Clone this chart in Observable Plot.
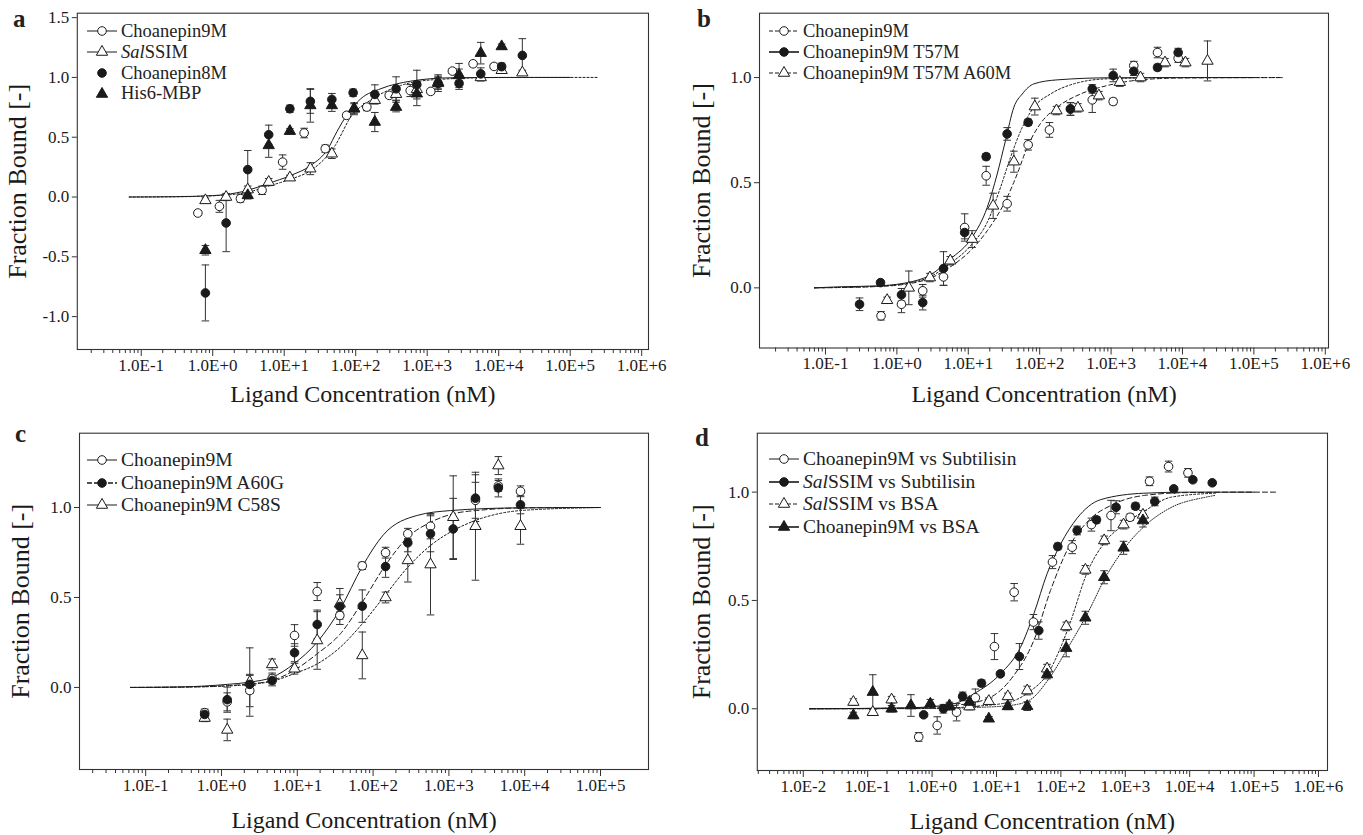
<!DOCTYPE html>
<html><head><meta charset="utf-8">
<script src="https://cdn.jsdelivr.net/npm/d3@7"></script>
<script src="https://cdn.jsdelivr.net/npm/@observablehq/plot@0.6"></script>
<style>
body{margin:0;background:#fff;}
#root{position:relative;width:1363px;height:835px;overflow:hidden;font-family:"Liberation Serif","Times New Roman",serif;color:#222;background:#fff;}
.panel{position:absolute;}
.letter{position:absolute;font-weight:bold;font-size:25px;line-height:1;}
.legend{position:absolute;}
.legend .row{display:flex;align-items:center;white-space:nowrap;}
.legend svg{flex:none;margin-right:2px;}
</style></head><body><div id="root"></div>
<script>
const FONT = '"Liberation Serif","Times New Roman",serif';

// ---------- Panel a ----------
const aDecades = [1e-1, 1e0, 1e1, 1e2, 1e3, 1e4, 1e5, 1e6];
const aYTicks = [-1.0, -0.5, 0.0, 0.5, 1.0, 1.5];
const aC9M_x = [0.62, 1.24, 2.44, 4.9, 9.5, 19, 37.5, 74.6, 143, 294, 578, 1120, 2250, 4380, 8600];
const aC9M_y = [-0.134, -0.078, -0.013, 0.056, 0.292, 0.535, 0.404, 0.683, 0.752, 0.85, 0.89, 0.883, 1.053, 1.114, 1.092];
const aC9M_e = [0.02, 0.05, 0.03, 0.035, 0.06, 0.04, 0.03, 0.02, 0.03, 0.02, 0.05, 0.02, 0.02, 0.02, 0.02];
const aSal_x = [0.79, 1.54, 3.09, 6.07, 12, 23.2, 46.4, 95, 185, 367, 716, 1420, 2790, 5610, 11000, 21400];
const aSal_y = [-0.028, 0.0, 0.062, 0.125, 0.162, 0.237, 0.362, 0.74, 0.81, 0.86, 0.9, 0.96, 1.02, 1.0, 1.06, 1.04];
const aSal_e = [0.02, 0.03, 0.03, 0.03, 0.02, 0.05, 0.04, 0.04, 0.03, 0.05, 0.03, 0.05, 0.05, 0.03, 0.02, 0.02];
const aC8M_x = [0.79, 1.54, 3.09, 6.07, 12, 23.2, 46.4, 92, 185, 367, 716, 1420, 2790, 5610, 11000, 21400];
const aC8M_y = [-0.802, -0.217, 0.229, 0.521, 0.738, 0.80, 0.816, 0.872, 0.858, 0.905, 0.94, 0.95, 0.95, 1.03, 1.09, 1.184];
const aC8M_e = [0.234, 0.24, 0.16, 0.08, 0.03, 0.1, 0.05, 0.03, 0.08, 0.1, 0.12, 0.05, 0.05, 0.05, 0.03, 0.14];
const aHis_x = [0.79, 3.09, 6.07, 12, 23.2, 46.4, 95, 185, 367, 716, 1420, 2790, 5610, 11000];
const aHis_y = [-0.445, 0.014, 0.432, 0.551, 0.766, 0.766, 0.738, 0.627, 0.752, 0.864, 0.952, 1.017, 1.203, 1.259];
const aHis_e = [0.04, 0.03, 0.1, 0.02, 0.14, 0.05, 0.05, 0.08, 0.04, 0.1, 0.07, 0.1, 0.09, 0.02];
const aFitC9M_x = [0.068, 0.3, 1, 1.46, 3.1, 5.9, 12.4, 23.7, 40.5, 55, 75, 118, 225, 590, 2140, 10000, 100000];
const aFitC9M_y = [0, 0.003, 0.012, 0.02, 0.056, 0.112, 0.181, 0.265, 0.40, 0.55, 0.685, 0.822, 0.906, 0.969, 0.997, 1.0, 1.0];
const aFitSal_x = [0.068, 0.3, 1, 3.1, 5.9, 12.4, 23.7, 50, 90, 147, 428, 1250, 10000, 250000];
const aFitSal_y = [0, 0.002, 0.01, 0.04, 0.09, 0.15, 0.223, 0.418, 0.69, 0.794, 0.933, 0.981, 0.999, 1.0];

// ---------- Panel b ----------
const bDecades = [1e-1, 1e0, 1e1, 1e2, 1e3, 1e4, 1e5, 1e6];
const bYTicks = [0.0, 0.5, 1.0];
const bC9M_x = [0.6, 1.16, 2.3, 4.5, 8.9, 17.8, 35, 69, 137, 270, 545, 1070, 2080, 4470, 8700];
const bC9M_y = [-0.133, -0.078, -0.014, 0.052, 0.287, 0.533, 0.40, 0.68, 0.751, 0.85, 0.894, 0.886, 1.057, 1.119, 1.092];
const bC9M_e = [0.02, 0.04, 0.03, 0.04, 0.065, 0.045, 0.035, 0.025, 0.035, 0.03, 0.06, 0.015, 0.02, 0.025, 0.02];
const bT57_x = [0.3, 0.59, 1.16, 2.3, 4.5, 8.9, 17.8, 35, 69, 270, 545, 1070, 2080, 4470, 8700];
const bT57_y = [-0.078, 0.025, -0.033, -0.07, 0.092, 0.263, 0.624, 0.732, 0.787, 0.851, 0.946, 1.01, 1.03, 1.048, 1.119];
const bT57_e = [0.03, 0.01, 0.03, 0.035, 0.08, 0.03, 0.015, 0.03, 0.015, 0.03, 0.02, 0.03, 0.02, 0.015, 0.02];
const bA60_x = [0.73, 1.47, 2.9, 5.6, 11.3, 22.3, 43.5, 85.5, 172, 343, 675, 1325, 2580, 5690, 11000, 22400];
const bA60_y = [-0.059, 0.0, 0.049, 0.129, 0.232, 0.39, 0.60, 0.862, 0.843, 0.856, 0.914, 0.978, 1.0, 1.071, 1.071, 1.079];
const bA60_e = [0.015, 0.08, 0.02, 0.02, 0.04, 0.06, 0.05, 0.04, 0.02, 0.02, 0.02, 0.02, 0.02, 0.02, 0.02, 0.095];
const bFitT57_x = [0.07, 0.16, 0.59, 2.38, 5.6, 11.3, 18.4, 25.4, 33.2, 43.5, 57, 83, 176, 1000, 100000];
const bFitT57_y = [0, 0.005, 0.01, 0.046, 0.137, 0.24, 0.382, 0.541, 0.70, 0.859, 0.922, 0.97, 0.989, 0.999, 1.0];
const bFitA60_x = [0.07, 0.59, 2.38, 5.6, 11.3, 18.4, 28.3, 39, 57, 83, 142, 300, 883, 10000, 250000];
const bFitA60_y = [0, 0.008, 0.04, 0.116, 0.208, 0.311, 0.478, 0.62, 0.763, 0.859, 0.922, 0.97, 0.994, 1.0, 1.0];
const bFitC9M_x = [0.07, 0.59, 2.38, 5.6, 11.3, 18.4, 35, 48.4, 66.8, 102, 176, 375, 883, 2580, 10000, 250000];
const bFitC9M_y = [0, 0.007, 0.035, 0.1, 0.184, 0.271, 0.43, 0.541, 0.668, 0.78, 0.859, 0.922, 0.962, 0.989, 0.998, 1.0];

// ---------- Panel c ----------
const cDecades = [1e-1, 1e0, 1e1, 1e2, 1e3, 1e4, 1e5];
const cYTicks = [0.0, 0.5, 1.0];
const cConc = [0.6, 1.19, 2.36, 4.66, 9.2, 18.3, 36.4, 72, 146, 287, 572, 1140, 2240, 4490, 8800];
const cC9M_x = [0.6, 1.19, 2.36, 4.66, 9.2, 18.3, 36.4, 72, 146, 287, 572, 2240, 4490, 8800];
const cC9M_y = [-0.14, -0.08, -0.017, 0.05, 0.289, 0.533, 0.40, 0.676, 0.749, 0.854, 0.896, 1.04, 1.12, 1.09];
const cC9M_e = [0.015, 0.05, 0.09, 0.03, 0.06, 0.05, 0.02, 0.02, 0.03, 0.03, 0.07, 0.1, 0.03, 0.03];
const cA60G_y = [-0.15, -0.068, 0.017, 0.039, 0.193, 0.35, 0.45, 0.452, 0.672, 0.804, 0.854, 0.881, 1.052, 1.109, 1.015];
const cA60G_e = [0.03, 0.07, 0.05, 0.03, 0.05, 0.08, 0.1, 0.09, 0.06, 0.05, 0.1, 0.17, 0.13, 0.05, 0.05];
const cC58S_y = [-0.17, -0.236, 0.03, 0.128, 0.104, 0.261, 0.465, 0.178, 0.5, 0.706, 0.683, 0.946, 0.896, 1.233, 0.896];
const cC58S_e = [0.02, 0.06, 0.19, 0.03, 0.03, 0.16, 0.05, 0.13, 0.03, 0.12, 0.28, 0.23, 0.3, 0.05, 0.1];
const cFitC9M_x = [0.063, 0.3, 1.19, 2.4, 4.7, 9, 18.3, 37, 72, 138, 382, 1050, 8000, 100000];
const cFitC9M_y = [0, 0.003, 0.017, 0.03, 0.057, 0.131, 0.252, 0.437, 0.672, 0.85, 0.956, 0.983, 0.998, 1.0];
const cFitA60G_x = [0.063, 0.3, 1.2, 2.4, 4.7, 9, 18.3, 37, 72, 146, 287, 572, 1140, 2900, 10000, 100000];
const cFitA60G_y = [0, 0.002, 0.01, 0.02, 0.039, 0.094, 0.187, 0.298, 0.474, 0.68, 0.835, 0.918, 0.965, 0.987, 0.998, 1.0];
const cFitC58S_x = [0.063, 0.3, 1.2, 2.4, 4.7, 9, 18.3, 37, 72, 146, 287, 572, 1140, 2240, 8800, 100000];
const cFitC58S_y = [0, 0.002, 0.008, 0.017, 0.035, 0.076, 0.131, 0.224, 0.354, 0.515, 0.668, 0.789, 0.872, 0.928, 0.983, 1.0];

// ---------- Panel d ----------
const dDecades = [1e-2, 1e-1, 1e0, 1e1, 1e2, 1e3, 1e4, 1e5, 1e6];
const dYTicks = [0.0, 0.5, 1.0];
const dC9MS_x = [0.62, 1.2, 2.4, 4.7, 9.3, 18.8, 37.5, 74, 150, 298, 600, 1190, 2380, 4700, 9400];
const dC9MS_y = [-0.13, -0.077, -0.016, 0.051, 0.287, 0.538, 0.40, 0.677, 0.746, 0.85, 0.892, 0.884, 1.05, 1.118, 1.089];
const dC9MS_e = [0.02, 0.04, 0.04, 0.04, 0.06, 0.04, 0.035, 0.03, 0.03, 0.03, 0.07, 0.015, 0.02, 0.025, 0.02];
const dSalS_x = [0.74, 1.5, 2.98, 5.85, 11.5, 22.7, 45.4, 89.6, 179, 357, 720, 1440, 2870, 5660, 11200, 22400];
const dSalS_y = [-0.028, 0.0, 0.057, 0.118, 0.161, 0.241, 0.361, 0.749, 0.823, 0.872, 0.93, 0.935, 0.957, 1.015, 1.057, 1.043];
const dSalS_e = [0.01, 0.02, 0.02, 0.015, 0.01, 0.06, 0.04, 0.015, 0.02, 0.015, 0.03, 0.015, 0.02, 0.01, 0.01, 0.01];
const dSalB_x = [0.06, 0.12, 0.235, 1.86, 3.8, 7.6, 15, 30, 61, 121, 240, 470, 940, 1880];
const dSalB_y = [0.031, -0.016, 0.042, 0.015, 0.01, 0.035, 0.057, 0.084, 0.185, 0.38, 0.641, 0.777, 0.85, 0.895];
const dSalB_e = [0.015, 0.015, 0.015, 0.015, 0.015, 0.015, 0.015, 0.02, 0.02, 0.02, 0.02, 0.02, 0.02, 0.02];
const dC9MB_x = [0.06, 0.12, 0.235, 0.47, 0.94, 1.86, 3.8, 7.6, 15, 30, 61, 121, 240, 470, 940, 1880];
const dC9MB_y = [-0.031, 0.077, 0.0, 0.015, 0.023, 0.01, 0.031, -0.046, 0.011, 0.012, 0.158, 0.28, 0.42, 0.607, 0.743, 0.869];
const dC9MB_e = [0.015, 0.08, 0.015, 0.05, 0.02, 0.015, 0.015, 0.01, 0.015, 0.02, 0.02, 0.04, 0.03, 0.03, 0.03, 0.03];
const dFitC9MS_x = [0.0126, 0.5, 2.17, 4.45, 11.5, 23.6, 38, 61, 99, 179, 412, 1940, 10000, 100000];
const dFitC9MS_y = [0, 0.005, 0.023, 0.069, 0.161, 0.284, 0.438, 0.623, 0.76, 0.88, 0.965, 0.995, 1.0, 1.0];
const dFitSalS_x = [0.0126, 0.5, 2.2, 7.2, 18.6, 38, 69, 125, 256, 664, 2000, 10000, 100000, 220000];
const dFitSalS_y = [0, 0.003, 0.015, 0.046, 0.154, 0.315, 0.546, 0.731, 0.862, 0.945, 0.985, 0.998, 1.0, 1.0];
const dFitSalB_x = [0.0126, 1, 5, 16, 32, 65, 132, 257, 497, 1000, 2040, 5220, 25000];
const dFitSalB_y = [0, 0.002, 0.012, 0.031, 0.077, 0.17, 0.377, 0.63, 0.774, 0.854, 0.915, 0.977, 0.995];
const dFitC9MB_x = [0.0126, 1, 5, 16, 32, 65, 126, 257, 497, 1000, 2040, 5220, 18000, 25000];
const dFitC9MB_y = [0, 0.001, 0.006, 0.015, 0.038, 0.138, 0.277, 0.438, 0.608, 0.746, 0.846, 0.93, 0.977, 0.985];

// ---------- helpers ----------
const zip = (xs, ys, es) => xs.map((x, i) => ({x, y: ys[i], e: es ? es[i] : 0}));
const fmtE = d => { const p = Math.round(Math.log10(d)); return "1.0E" + (p < 0 ? "-" : "+") + Math.abs(p); };
const capSymbol = {draw(ctx, size) { const w = Math.sqrt(size / Math.PI); ctx.moveTo(-w, 0); ctx.lineTo(w, 0); }};
const INK = "#1a1a1a";

function makePanel(cfg) {
  const {box: [L, T, W, H], frame: [fx0, fx1, fy0, fy1], xLog: [lo, hi], yDom, yTicks, decades, curves, series, ylabOff, xlabOff} = cfg;
  const minor = [];
  const pMax = Math.log10(decades[decades.length - 1]);
  for (let p = Math.floor(lo); p < pMax; p++) for (let k = 2; k <= 9; k++) {
    const v = k * 10 ** p, lv = Math.log10(v);
    if (lv > lo && lv < hi) minor.push(v);
  }
  const marks = [
    Plot.axisX({ticks: minor, tickSize: 4, tickFormat: () => "", label: null, stroke: "#333"}),
    Plot.axisX({ticks: decades, tickSize: 7, tickPadding: 2, tickFormat: fmtE, label: null, fontSize: 17, stroke: "#333"}),
    Plot.axisX({ticks: [], label: "Ligand Concentration (nM)", labelAnchor: "center", labelArrow: "none", labelOffset: xlabOff, fontSize: 24}),
    Plot.axisY({ticks: yTicks, tickSize: 5, tickPadding: 3, tickFormat: d => d.toFixed(1), label: null, fontSize: 17, stroke: "#333"}),
    Plot.axisY({ticks: [], label: "Fraction Bound [-]", labelAnchor: "center", labelArrow: "none", labelOffset: ylabOff, fontSize: 26})
  ];
  for (const c of curves) {
    marks.push(Plot.line(zip(c.x, c.y), {x: "x", y: "y", curve: "monotone-x", stroke: INK, strokeWidth: 1, strokeDasharray: c.dash || null}));
  }
  for (const s of series) {
    const data = zip(s.x, s.y, s.e);
    marks.push(Plot.ruleX(data, {x: "x", y1: d => d.y - d.e, y2: d => d.y + d.e, stroke: "#333", strokeWidth: 1}));
    marks.push(Plot.dot(data, {x: "x", y: d => d.y - d.e, symbol: capSymbol, r: 3.8, fill: "none", stroke: "#333", strokeWidth: 1}));
    marks.push(Plot.dot(data, {x: "x", y: d => d.y + d.e, symbol: capSymbol, r: 3.8, fill: "none", stroke: "#333", strokeWidth: 1}));
  }
  for (const s of series) {
    const data = zip(s.x, s.y, s.e);
    marks.push(Plot.dot(data, {x: "x", y: "y", symbol: s.sym, r: s.sym === "triangle" ? 4.2 : 4.3,
      fill: s.filled ? INK : "white", stroke: INK, strokeWidth: 1}));
  }
  marks.push(Plot.frame({stroke: "#333", strokeWidth: 1.1}));
  const svg = Plot.plot({
    width: W, height: H,
    marginLeft: fx0 - L, marginRight: L + W - fx1, marginTop: fy0 - T, marginBottom: T + H - fy1,
    x: {type: "log", domain: [10 ** lo, 10 ** hi]},
    y: {domain: yDom},
    style: {fontFamily: FONT, fontSize: "17px", color: INK, background: "transparent", overflow: "visible"},
    marks
  });
  const div = document.createElement("div");
  div.className = "panel";
  div.style.left = L + "px"; div.style.top = T + "px";
  div.appendChild(svg);
  document.getElementById("root").appendChild(div);
}

function symPath(sym, r) {
  const type = sym === "triangle" ? d3.symbolTriangle : d3.symbolCircle;
  return d3.symbol(type, Math.PI * r * r)();
}
function addLegend({left, top, gap, size, items}) {
  const box = document.createElement("div");
  box.className = "legend";
  box.style.left = left + "px"; box.style.top = top + "px"; box.style.fontSize = size + "px";
  for (const it of items) {
    const row = document.createElement("div");
    row.className = "row"; row.style.height = gap + "px";
    const r = it.sym === "triangle" ? 4.2 : 4.3;
    const line = it.line ? `<line x1="1" x2="31" y1="10" y2="10" stroke="${INK}" stroke-width="${it.lw || 1}" ${it.line !== "solid" ? `stroke-dasharray="${it.line}"` : ""}/>` : "";
    row.innerHTML = `<svg width="33" height="20" viewBox="0 0 33 20">${line}<path transform="translate(16,10)" d="${symPath(it.sym, r)}" fill="${it.filled ? INK : "white"}" stroke="${INK}" stroke-width="1"/></svg><span>${it.label}</span>`;
    box.appendChild(row);
  }
  document.getElementById("root").appendChild(box);
}
function addLetter(t, left, top) {
  const el = document.createElement("div");
  el.className = "letter"; el.textContent = t;
  el.style.left = left + "px"; el.style.top = top + "px";
  document.getElementById("root").appendChild(el);
}

// ---------- build ----------
makePanel({
  box: [0, 0, 680, 420], frame: [76.8, 648, 12.7, 349], xLog: [-1.894, 6.095], yDom: [-1.275, 1.537],
  yTicks: aYTicks, decades: aDecades, ylabOff: 70, xlabOff: 52,
  curves: [{x: aFitC9M_x, y: aFitC9M_y}, {x: aFitSal_x, y: aFitSal_y, dash: "2,2"}],
  series: [
    {x: aC9M_x, y: aC9M_y, e: aC9M_e, sym: "circle", filled: false},
    {x: aSal_x, y: aSal_y, e: aSal_e, sym: "triangle", filled: false},
    {x: aC8M_x, y: aC8M_y, e: aC8M_e, sym: "circle", filled: true},
    {x: aHis_x, y: aHis_y, e: aHis_e, sym: "triangle", filled: true}
  ]
});
makePanel({
  box: [680, 0, 683, 420], frame: [759, 1328, 12.7, 347.5], xLog: [-1.924, 6.045], yDom: [-0.286, 1.306],
  yTicks: bYTicks, decades: bDecades, ylabOff: 68, xlabOff: 54,
  curves: [{x: bFitT57_x, y: bFitT57_y}, {x: bFitA60_x, y: bFitA60_y, dash: "2,2"}, {x: bFitC9M_x, y: bFitC9M_y, dash: "4,3"}],
  series: [
    {x: bC9M_x, y: bC9M_y, e: bC9M_e, sym: "circle", filled: false},
    {x: bA60_x, y: bA60_y, e: bA60_e, sym: "triangle", filled: false},
    {x: bT57_x, y: bT57_y, e: bT57_e, sym: "circle", filled: true}
  ]
});
makePanel({
  box: [0, 415, 680, 420], frame: [79, 648, 432.7, 769], xLog: [-1.873, 5.633], yDom: [-0.456, 1.413],
  yTicks: cYTicks, decades: cDecades, ylabOff: 69, xlabOff: 58,
  curves: [{x: cFitC9M_x, y: cFitC9M_y}, {x: cFitA60G_x, y: cFitA60G_y, dash: "5,3"}, {x: cFitC58S_x, y: cFitC58S_y, dash: "2,2"}],
  series: [
    {x: cC9M_x, y: cC9M_y, e: cC9M_e, sym: "circle", filled: false},
    {x: cConc, y: cC58S_y, e: cC58S_e, sym: "triangle", filled: false},
    {x: cConc, y: cA60G_y, e: cA60G_e, sym: "circle", filled: true}
  ]
});
makePanel({
  box: [680, 415, 683, 420], frame: [756.8, 1327, 432.7, 770], xLog: [-2.714, 6.14], yDom: [-0.285, 1.272],
  yTicks: dYTicks, decades: dDecades, ylabOff: 66, xlabOff: 58,
  curves: [{x: dFitC9MS_x, y: dFitC9MS_y}, {x: dFitSalS_x, y: dFitSalS_y, dash: "5,3"}, {x: dFitSalB_x, y: dFitSalB_y, dash: "2,2"}, {x: dFitC9MB_x, y: dFitC9MB_y, dash: "1,1.5"}],
  series: [
    {x: dC9MS_x, y: dC9MS_y, e: dC9MS_e, sym: "circle", filled: false},
    {x: dSalB_x, y: dSalB_y, e: dSalB_e, sym: "triangle", filled: false},
    {x: dSalS_x, y: dSalS_y, e: dSalS_e, sym: "circle", filled: true},
    {x: dC9MB_x, y: dC9MB_y, e: dC9MB_e, sym: "triangle", filled: true}
  ]
});

addLegend({left: 86, top: 21, gap: 20.8, size: 18.5, items: [
  {label: "Choanepin9M", sym: "circle", filled: false, line: "solid"},
  {label: "<i>Sal</i>SSIM", sym: "triangle", filled: false, line: "solid"},
  {label: "Choanepin8M", sym: "circle", filled: true},
  {label: "His6-MBP", sym: "triangle", filled: true}
]});
addLegend({left: 768, top: 21, gap: 20.8, size: 18.5, items: [
  {label: "Choanepin9M", sym: "circle", filled: false, line: "4,2"},
  {label: "Choanepin9M T57M", sym: "circle", filled: true, line: "solid", lw: 1.6},
  {label: "Choanepin9M T57M A60M", sym: "triangle", filled: false, line: "4,2"}
]});
addLegend({left: 86, top: 449, gap: 22.5, size: 19.5, items: [
  {label: "Choanepin9M", sym: "circle", filled: false, line: "solid"},
  {label: "Choanepin9M A60G", sym: "circle", filled: true, line: "5,2", lw: 1.6},
  {label: "Choanepin9M C58S", sym: "triangle", filled: false, line: "solid"}
]});
addLegend({left: 768, top: 448, gap: 22.5, size: 19.5, items: [
  {label: "Choanepin9M vs Subtilisin", sym: "circle", filled: false, line: "solid"},
  {label: "<i>Sal</i>SSIM vs Subtilisin", sym: "circle", filled: true, line: "solid", lw: 1.6},
  {label: "<i>Sal</i>SSIM vs BSA", sym: "triangle", filled: false, line: "4,2"},
  {label: "Choanepin9M vs BSA", sym: "triangle", filled: true, line: "solid", lw: 1.6}
]});

addLetter("a", 13, 6);
addLetter("b", 697, 6);
addLetter("c", 15, 421);
addLetter("d", 695, 425);
</script></body></html>
